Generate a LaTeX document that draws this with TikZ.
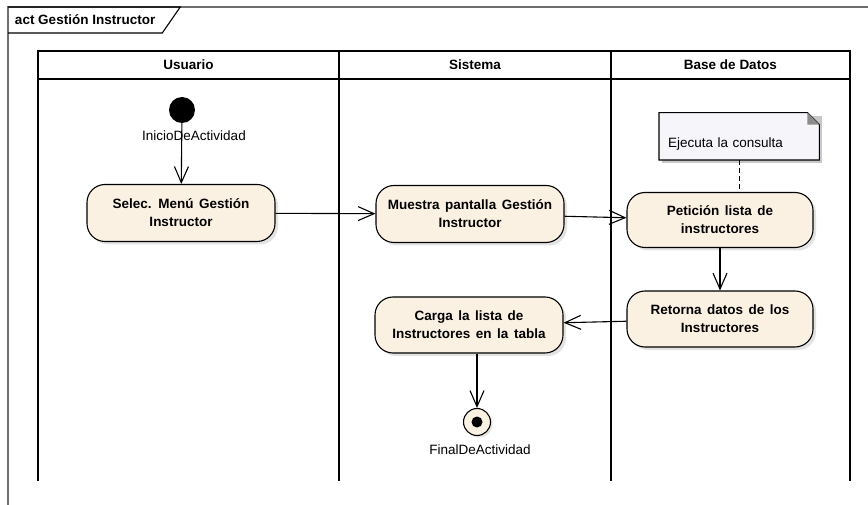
\documentclass[tikz,border=0pt]{standalone}
\usepackage{fontspec}
\setmainfont{Liberation Sans}
\usepackage{tikz}
\usetikzlibrary{arrows.meta,positioning,shadows,backgrounds}
\definecolor{actbeige}{RGB}{251,241,227}
\definecolor{notelila}{RGB}{245,245,250}
\definecolor{framegray}{RGB}{110,110,110}
\definecolor{shadegray}{RGB}{200,200,200}

\begin{document}
\begin{tikzpicture}[x=1pt, y=-1pt,
    action/.style={rectangle, draw=black, rounded corners=18pt, fill=actbeige, line width=1.1pt,
        minimum width=188pt, minimum height=57pt, align=center,
        font={\fontsize{13.5}{18}\selectfont\bfseries\spaceskip=5.5pt\relax},
        drop shadow={shadow xshift=3pt, shadow yshift=-3pt, fill=shadegray}},
    lanehead/.style={rectangle, draw=black, line width=1.2pt, minimum height=28pt, outer sep=0pt,
        font=\fontsize{13.5}{17}\selectfont\bfseries},
    laneline/.style={draw=black, line width=1.2pt},
    initial/.style={circle, fill=black, minimum size=26pt, inner sep=0pt},
    final/.style={circle, draw=black, fill=actbeige, line width=1.1pt, minimum size=27pt, inner sep=0pt,
        drop shadow={shadow xshift=2pt, shadow yshift=-2pt, fill=shadegray},
        path picture={\fill[black] (path picture bounding box.center) circle (5.5pt);}},
    notebox/.style={inner xsep=9pt, inner ysep=0pt, text width=142pt, align=left,
        text height=35pt, text depth=12pt,
        font={\fontsize{13.5}{17}\selectfont\spaceskip=7pt\relax}},
    lbl/.style={font=\fontsize{13.5}{17}\selectfont},
    arr/.style={-{Straight Barb[length=16pt, width=14pt, line width=1.1pt]}, line width=1.1pt},
    darr/.style={dashed, line width=1.1pt, dash pattern=on 5pt off 3pt}
]
\useasboundingbox (0,0) rectangle (868,505);

% frame
\draw[framegray, line width=1.1pt] (8,505) -- (8,7) -- (868,7);
\node[anchor=north west, minimum height=26pt, inner xsep=7pt, outer sep=0pt,
    font=\fontsize{13.5}{17}\selectfont\bfseries] (tab) at (8,7) {act Gestión Instructor};
\draw[line width=1.1pt] (tab.south west) -- (tab.south east) -- ([xshift=18pt]tab.north east) -- (tab.north west);

% lanes
\node[lanehead, minimum width=301pt, anchor=north west] (usr) at (38,51) {Usuario};
\node[lanehead, minimum width=272pt, right=0pt of usr] (sis) {Sistema};
\node[lanehead, minimum width=239pt, right=0pt of sis] (bd) {Base de Datos};
\draw[laneline] (usr.south west) -- ++(0,402);
\draw[laneline] (sis.south west) -- ++(0,402);
\draw[laneline] (bd.south west) -- ++(0,402);
\draw[laneline] (bd.south east) -- ++(0,402);

% Usuario
\node[initial, label={[lbl, xshift=12pt, label distance=4pt]below:InicioDeActividad}] (ini) at (182,110) {};
\node[action] (sel) at (181,213) {Selec. Menú Gestión\\Instructor};
\draw[arr] (ini) -- (sel);

% Sistema
\node[action] (mue) at (470,214) {Muestra pantalla Gestión\\Instructor};
\draw[arr] (sel) -- (mue);

% Base de Datos
\node[action, minimum width=186pt, minimum height=55pt] (pet) at (720,220) {Petición lista de\\instructores};
\draw[arr] (mue) -- (pet);

\node[notebox, anchor=south west] (note) at (659,160) {Ejecuta la consulta};
\begin{scope}[on background layer]
\fill[shadegray] ([xshift=3pt,yshift=-3pt]note.north west) -- ([xshift=3pt,yshift=-3pt]note.north east)
    -- ([xshift=3pt,yshift=-3pt]note.south east) -- ([xshift=3pt,yshift=-3pt]note.south west) -- cycle;
\draw[fill=notelila, line width=1.1pt] (note.north west) -- ([xshift=-12pt]note.north east)
    -- ([yshift=-12pt]note.north east) -- (note.south east) -- (note.south west) -- cycle;
\fill[black!45] ([xshift=-12pt]note.north east) -- ([yshift=-12pt]note.north east)
    -- ([xshift=-12pt,yshift=-12pt]note.north east) -- cycle;
\end{scope}
\draw[darr] (note.south) -- (note.south |- pet.north);

\node[action, minimum width=186pt, minimum height=56pt] (ret) at (720,319) {Retorna datos de los\\Instructores};
\draw[arr] (pet) -- (ret);

% Sistema (fin)
\node[action, minimum height=56pt] (car) at (469,325) {Carga la lista de\\Instructores en la tabla};
\draw[arr] (ret) -- (car);

\node[final, label={[lbl, xshift=3pt, label distance=5pt]below:FinalDeActividad}] (fin) at (477,422) {};
\draw[arr] (fin |- car.south) -- (fin);
\end{tikzpicture}
\end{document}
